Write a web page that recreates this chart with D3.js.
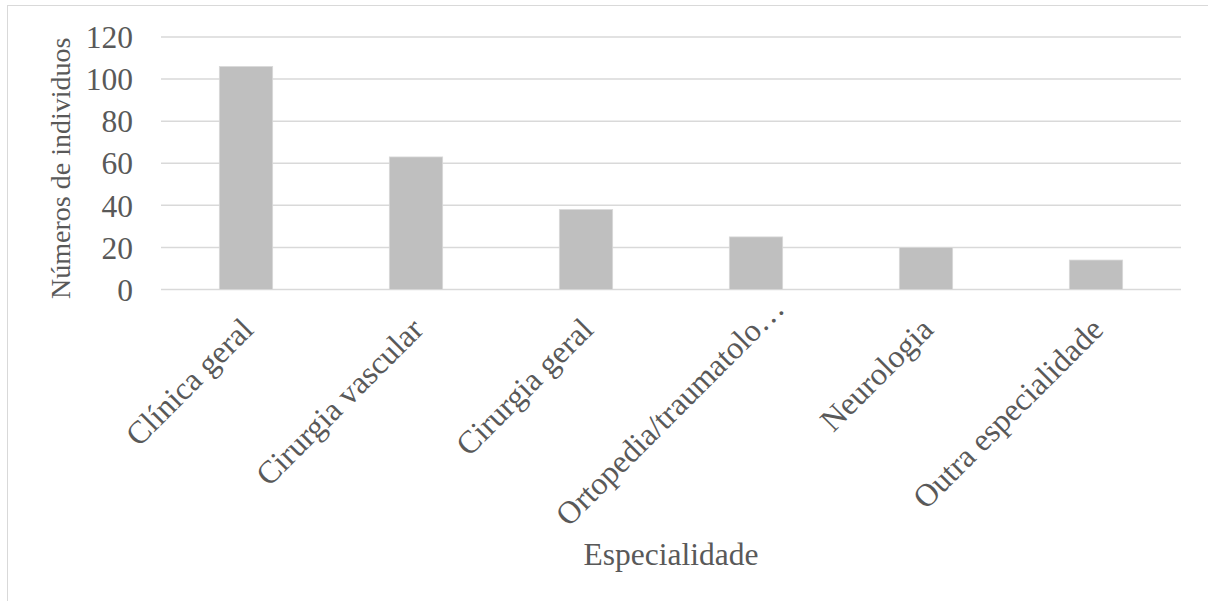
<!DOCTYPE html>
<html>
<head>
<meta charset="utf-8">
<script src="https://cdn.jsdelivr.net/npm/d3@7"></script>
<style>
  html, body { margin: 0; padding: 0; background: #fff; }
  svg { display: block; }
  text { font-family: "Liberation Serif", "Times New Roman", serif; fill: #595959; }
</style>
</head>
<body>
<svg id="chart" width="1208" height="601"></svg>
<script>
// Número de indivíduos por especialidade
const categories = ["Clínica geral", "Cirurgia vascular", "Cirurgia geral", "Ortopedia/traumatolo…", "Neurologia", "Outra especialidade"];
const counts = [106, 63, 38, 25, 20, 14];
const yTicks = [0, 20, 40, 60, 80, 100, 120];
const yTitle = "Números de individuos";
const xTitle = "Especialidade";

const W = 1208, H = 601;
const margin = { left: 161, right: 27, top: 37, bottom: 312 };
const svg = d3.select("#chart");
const serif = '"Liberation Serif", "Times New Roman", serif';

// chart area frame
svg.append("rect")
  .attr("x", 7.5).attr("y", 5.5)
  .attr("width", W + 10).attr("height", H + 10)
  .attr("fill", "none").attr("stroke", "#d9d9d9").attr("stroke-width", 1);

const x = d3.scaleBand()
  .domain(categories)
  .range([margin.left, W - margin.right])
  .paddingInner(0.686).paddingOuter(0.343);

const y = d3.scaleLinear()
  .domain([0, 120])
  .range([H - margin.bottom + 0.5, margin.top]);

// horizontal gridlines
svg.append("g")
  .selectAll("line")
  .data(yTicks)
  .join("line")
  .attr("x1", margin.left).attr("x2", W - margin.right)
  .attr("y1", d => y(d)).attr("y2", d => y(d))
  .attr("stroke", "#d9d9d9").attr("stroke-width", 1.5);

// bars
svg.append("g")
  .selectAll("rect")
  .data(categories)
  .join("rect")
  .attr("x", d => x(d))
  .attr("y", (d, i) => y(counts[i]))
  .attr("width", x.bandwidth())
  .attr("height", (d, i) => y(0) - y(counts[i]))
  .attr("fill", "#bfbfbf")
  .attr("stroke", "#d9d9d9").attr("stroke-width", 0.75);

// y axis labels
const yAxis = d3.axisLeft(y).tickValues(yTicks).tickSize(0).tickPadding(0);
const gy = svg.append("g")
  .attr("transform", `translate(${margin.left - 28},0)`)
  .call(yAxis);
gy.select(".domain").remove();
gy.selectAll("text")
  .style("font-family", serif)
  .style("font-size", "31.5px")
  .attr("fill", "#595959")
  .attr("dy", "0.34em");

// x axis category labels, rotated; a truncated label sits further along its line
const xAxis = d3.axisBottom(x).tickSize(0).tickPadding(0);
const gx = svg.append("g")
  .attr("transform", `translate(0,${y(0)})`)
  .call(xAxis);
gx.select(".domain").remove();
gx.selectAll("text")
  .style("font-family", serif)
  .style("font-size", "32px")
  .attr("fill", "#595959")
  .attr("text-anchor", "end")
  .attr("dy", null)
  .attr("y", 0)
  .attr("dx", d => d.endsWith("…") ? 30 : 0)
  .attr("transform", "translate(9,42) rotate(-45)");

// axis titles
svg.append("text")
  .attr("transform", `translate(70,${(y(0) + y(120)) / 2 + 5}) rotate(-90)`)
  .attr("text-anchor", "middle")
  .style("font-size", "28px")
  .text(yTitle);

svg.append("text")
  .attr("x", (margin.left + W - margin.right) / 2)
  .attr("y", 565)
  .attr("text-anchor", "middle")
  .style("font-size", "31.5px")
  .text(xTitle);
</script>
</body>
</html>
